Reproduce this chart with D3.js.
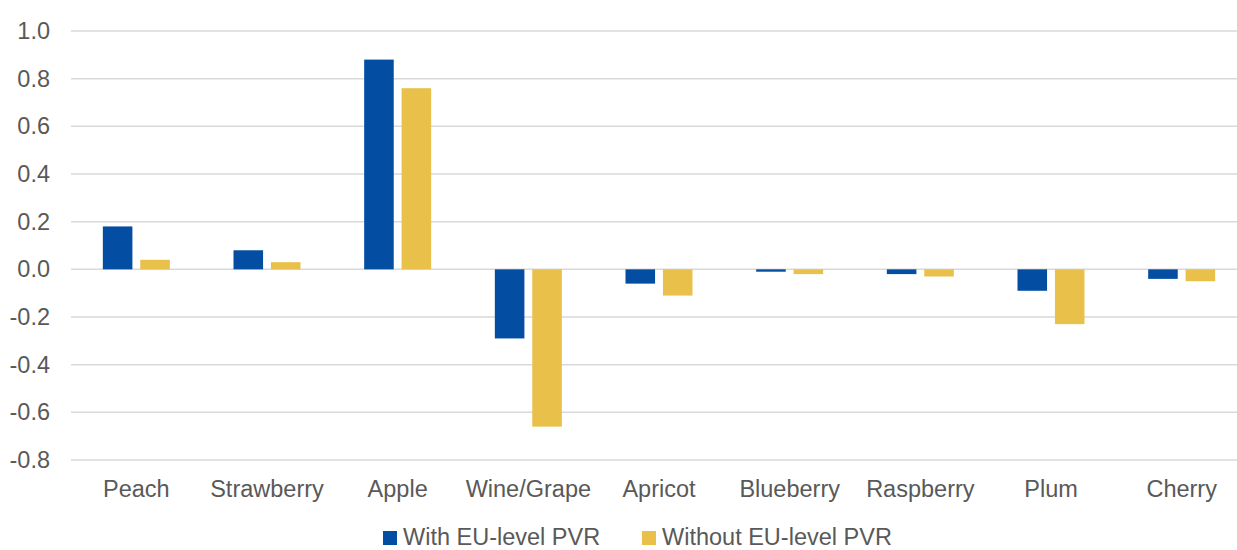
<!DOCTYPE html>
<html>
<head>
<meta charset="utf-8">
<script src="https://cdn.jsdelivr.net/npm/d3@7"></script>
<style>
  body { margin: 0; background: #fff; }
  svg { font-family: "Liberation Sans", Arial, sans-serif; }
</style>
</head>
<body>
<svg id="chart_svg" width="1237" height="550"></svg>
<script>
// Chart data
var categories = ["Peach", "Strawberry", "Apple", "Wine/Grape", "Apricot", "Blueberry", "Raspberry", "Plum", "Cherry"];
var seriesNames = ["With EU-level PVR", "Without EU-level PVR"];
var withPVR = [0.18, 0.08, 0.88, -0.29, -0.06, -0.01, -0.02, -0.09, -0.04];
var withoutPVR = [0.04, 0.03, 0.76, -0.66, -0.11, -0.02, -0.03, -0.23, -0.05];
var yTicks = [1.0, 0.8, 0.6, 0.4, 0.2, 0.0, -0.2, -0.4, -0.6, -0.8];
var colors = ["#034ea2", "#e9c04a"];

var svg = d3.select("#chart_svg");
var width = 1237, height = 550;
// plot area runs a little past the right edge (the original is cropped there)
var margin = {left: 71, top: 31, bottom: 90};
var plotRight = 1247;
var fontSize = "23.5px";

// Scales
var yScale = d3.scaleLinear()
    .domain([-0.8, 1.0])
    .range([height - margin.bottom, margin.top]);

var xScale = d3.scaleBand()
    .domain(categories)
    .range([margin.left, plotRight])
    .padding(0);

var groupWidth = 67;
var subScale = d3.scaleBand()
    .domain(seriesNames)
    .range([0, groupWidth])
    .paddingInner(0.21);

// Gridlines
svg.append("g")
    .selectAll("line")
    .data(yTicks)
    .enter()
    .append("line")
        .attr("x1", margin.left)
        .attr("x2", width)
        .attr("y1", d => yScale(d))
        .attr("y2", d => yScale(d))
        .style("stroke", "#d9d9d9")
        .style("stroke-width", 1.5);

// Y axis labels (plain hyphen for negatives, like the original)
var yAxis = d3.axisLeft(yScale)
    .tickValues(yTicks)
    .tickFormat(d => d.toFixed(1))
    .tickSize(0)
    .tickPadding(21);
var yAxisG = svg.append("g")
    .attr("transform", `translate(${margin.left}, 0)`)
    .call(yAxis);
yAxisG.select(".domain").remove();
yAxisG.selectAll("text")
    .style("font-size", fontSize)
    .style("fill", "#595959")
    .style("font-family", "Liberation Sans, Arial, sans-serif");

// Bars
var rows = categories.map((c, i) => ({cat: c, values: [withPVR[i], withoutPVR[i]]}));

var groups = svg.append("g")
    .selectAll("g")
    .data(rows)
    .enter()
    .append("g")
        .attr("transform", d => `translate(${xScale(d.cat) + xScale.bandwidth() / 2 - groupWidth / 2}, 0)`);

groups.selectAll("rect")
    .data(d => d.values.map((v, j) => ({name: seriesNames[j], value: v, color: colors[j]})))
    .enter()
    .append("rect")
        .attr("x", d => subScale(d.name))
        .attr("width", subScale.bandwidth())
        .attr("y", d => yScale(Math.max(0, d.value)))
        .attr("height", d => Math.abs(yScale(d.value) - yScale(0)))
        .style("fill", d => d.color);

// X axis labels
var xAxis = d3.axisBottom(xScale).tickSize(0).tickPadding(20);
var xAxisG = svg.append("g")
    .attr("transform", `translate(0, ${height - margin.bottom})`)
    .call(xAxis);
xAxisG.select(".domain").remove();
xAxisG.selectAll("text")
    .style("font-size", fontSize)
    .style("fill", "#595959")
    .style("font-family", "Liberation Sans, Arial, sans-serif");

// Legend
var legendX = [383, 642];
var legend = svg.append("g")
    .selectAll("g")
    .data(seriesNames)
    .enter()
    .append("g")
        .attr("transform", (d, i) => `translate(${legendX[i]}, 531)`);

legend.append("rect")
    .attr("width", 14)
    .attr("height", 14)
    .style("fill", (d, i) => colors[i]);

legend.append("text")
    .attr("x", 20)
    .attr("y", 14)
    .style("font-size", fontSize)
    .style("fill", "#595959")
    .text(d => d);
</script>
</body>
</html>
